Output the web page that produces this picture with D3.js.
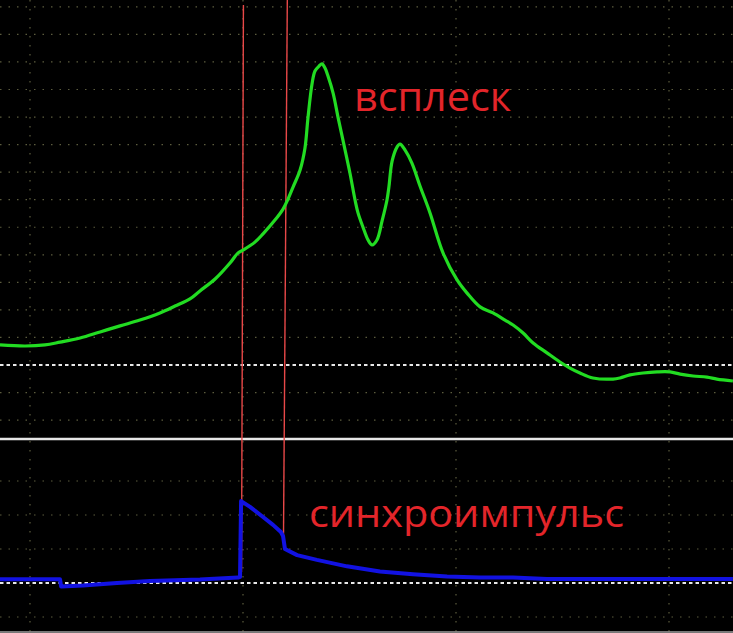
<!DOCTYPE html>
<html>
<head>
<meta charset="utf-8">
<script src="https://cdn.jsdelivr.net/npm/d3@7"></script>
<style>
html,body{margin:0;padding:0;background:#000;overflow:hidden;}
svg{display:block;}
</style>
</head>
<body>
<svg id="chart" width="733" height="633"></svg>
<script>
// ---- data (time in divisions, amplitude in divisions) ----
const burstT = [-0.141,-0.023,0.070,0.141,0.235,0.329,0.423,0.516,0.610,0.681,0.751,0.798,0.869,0.939,0.977,1.000,1.056,1.094,1.150,1.188,1.207,1.235,1.268,1.291,1.305,1.324,1.338,1.357,1.371,1.385,1.399,1.423,1.446,1.469,1.502,1.526,1.540,1.563,1.587,1.606,1.629,1.653,1.676,1.685,1.700,1.723,1.737,1.761,1.793,1.831,1.878,1.939,2.005,2.052,2.113,2.174,2.230,2.268,2.315,2.362,2.427,2.488,2.535,2.582,2.643,2.737,2.770,2.817,2.878,2.944,3.005,3.052,3.113,3.178,3.225,3.300];
const burstV = [0.73,0.69,0.73,0.83,0.98,1.20,1.42,1.63,1.89,2.14,2.40,2.69,3.12,3.70,4.07,4.17,4.46,4.76,5.26,5.66,5.95,6.46,7.08,7.88,8.97,10.20,10.67,10.85,10.93,10.78,10.49,9.87,9.00,8.17,6.97,5.99,5.52,5.01,4.54,4.36,4.54,5.23,5.99,6.46,7.40,7.91,8.02,7.80,7.33,6.50,5.52,4.07,3.09,2.61,2.11,1.89,1.63,1.45,1.16,0.80,0.44,0.11,-0.11,-0.29,-0.47,-0.51,-0.47,-0.36,-0.29,-0.25,-0.25,-0.33,-0.40,-0.44,-0.51,-0.58];

const syncT = [-0.141,0.141,0.146,0.249,0.408,0.563,0.798,0.977,0.986,0.991,1.033,1.094,1.141,1.178,1.188,1.197,1.254,1.347,1.488,1.643,1.798,1.958,2.113,2.268,2.427,2.737,3.300];
const syncV = [0.11,0.11,-0.10,-0.07,0.00,0.06,0.10,0.16,0.18,2.41,2.24,1.94,1.71,1.50,1.38,1.00,0.82,0.68,0.49,0.34,0.26,0.19,0.16,0.16,0.12,0.12,0.12];

// cursor markers (time at top, time at bottom, lower-panel level where they end)
const markerTopT = [1.002, 1.208];
const markerBotT = [0.993, 1.190];
const markerEndV = [0.32, 1.26];

const labels = ["всплеск", "синхроимпульс"];

// grid divisions
const vGridT = [0, 1, 2, 3];
const hGridTop = [-2, -1, 1, 2, 3, 4, 5, 6, 7, 8, 9, 10, 11, 12, 13];
const hGridBot = [-1, 1, 2, 3];

// ---- scales ----
const W = 733, H = 633;
const x = d3.scaleLinear().domain([0, 3]).range([30, 669]);
const yTop = d3.scaleLinear().domain([0, 13]).range([365, 6.85]);
const yBot = d3.scaleLinear().domain([0, 1]).range([583, 549]);

const svg = d3.select("#chart");
svg.append("rect").attr("width", W).attr("height", H).attr("fill", "#000");

const gridColor = "#5c5c3e";
// horizontal dotted grid (upper panel)
svg.append("g").selectAll("line").data(hGridTop).join("line")
  .attr("x1", 0).attr("x2", W)
  .attr("y1", d => yTop(d)).attr("y2", d => yTop(d))
  .attr("stroke", gridColor).attr("stroke-width", 1.2)
  .attr("stroke-dasharray", "1.5 7");
// horizontal dotted grid (lower panel)
svg.append("g").selectAll("line").data(hGridBot).join("line")
  .attr("x1", 0).attr("x2", W)
  .attr("y1", d => yBot(d)).attr("y2", d => yBot(d))
  .attr("stroke", gridColor).attr("stroke-width", 1.2)
  .attr("stroke-dasharray", "1.5 7");
// vertical dotted grid
svg.append("g").selectAll("line").data(vGridT).join("line")
  .attr("x1", d => x(d)).attr("x2", d => x(d))
  .attr("y1", 0).attr("y2", H)
  .attr("stroke", gridColor).attr("stroke-width", 1.2)
  .attr("stroke-dasharray", "1.5 7.5");

// zero reference dashed lines
svg.append("line").attr("x1", 0).attr("x2", W)
  .attr("y1", yTop(0)).attr("y2", yTop(0))
  .attr("stroke", "#e8e8e8").attr("stroke-width", 2).attr("stroke-dasharray", "3.5 3");
svg.append("line").attr("x1", 0).attr("x2", W)
  .attr("y1", yBot(0)).attr("y2", yBot(0))
  .attr("stroke", "#e8e8e8").attr("stroke-width", 2).attr("stroke-dasharray", "3.5 3");

// panel separator and bottom border
svg.append("line").attr("x1", 0).attr("x2", W).attr("y1", 439).attr("y2", 439)
  .attr("stroke", "#e6e6e6").attr("stroke-width", 2.5);
svg.append("line").attr("x1", 0).attr("x2", W).attr("y1", 632).attr("y2", 632)
  .attr("stroke", "#a0a0a0").attr("stroke-width", 1.5);

// red cursor markers
svg.append("g").selectAll("line").data(markerTopT).join("line")
  .attr("x1", d => x(d)).attr("y1", (d, i) => i === 0 ? 5 : 0)
  .attr("x2", (d, i) => x(markerBotT[i])).attr("y2", (d, i) => yBot(markerEndV[i]))
  .attr("stroke", "#e84848").attr("stroke-width", 1.4);

// burst curve (green)
const burst = burstT.map((t, i) => [t, burstV[i]]);
svg.append("path").datum(burst)
  .attr("fill", "none").attr("stroke", "#22dc22").attr("stroke-width", 3.2)
  .attr("stroke-linejoin", "round")
  .attr("d", d3.line().x(d => x(d[0])).y(d => yTop(d[1])).curve(d3.curveCatmullRom.alpha(0.5)));

// sync pulse (blue)
const sync = syncT.map((t, i) => [t, syncV[i]]);
svg.append("path").datum(sync)
  .attr("fill", "none").attr("stroke", "#1212e2").attr("stroke-width", 4)
  .attr("stroke-linejoin", "round")
  .attr("d", d3.line().x(d => x(d[0])).y(d => yBot(d[1])));

// labels
const labelFont = "'Open Sans', 'Noto Sans', sans-serif";
svg.append("text").attr("x", 354).attr("y", 111)
  .attr("font-family", labelFont).attr("font-size", 40)
  .attr("fill", "#e3252a").attr("textLength", 157).attr("lengthAdjust", "spacingAndGlyphs")
  .text(labels[0]);
svg.append("text").attr("x", 309).attr("y", 527)
  .attr("font-family", labelFont).attr("font-size", 39)
  .attr("fill", "#e3252a").attr("textLength", 315).attr("lengthAdjust", "spacingAndGlyphs")
  .text(labels[1]);
</script>
</body>
</html>
